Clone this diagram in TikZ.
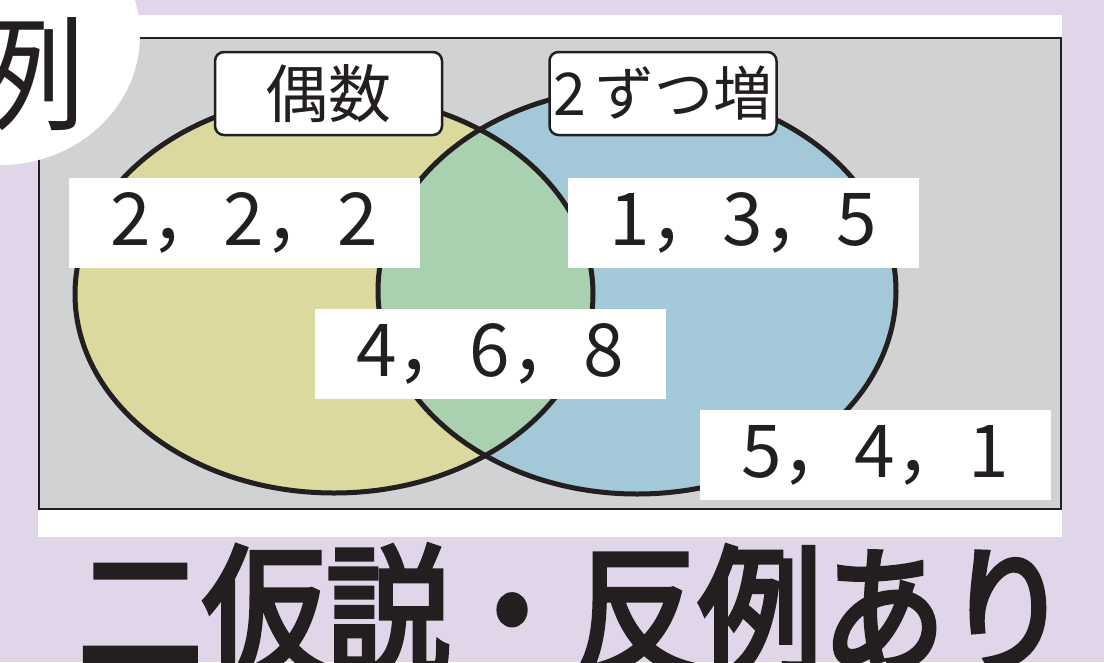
\documentclass[tikz,border=0pt]{standalone}
\usepackage{fontspec}
\newfontfamily\jp{Noto Sans CJK JP}
\newfontfamily\jpb[FakeBold=4]{Noto Sans CJK JP}
\definecolor{lav}{HTML}{E0D5E9}
\definecolor{boxgray}{HTML}{D1D2D4}
\definecolor{yel}{HTML}{DCD99F}
\definecolor{blu}{HTML}{A3C9D8}
\definecolor{grn}{HTML}{A9D0AF}
\definecolor{ink}{HTML}{231F20}
\tikzset{
  numbox/.style={fill=white, minimum width=351pt, minimum height=90pt, inner sep=0pt,
    font=\jp\fontsize{73}{73}\selectfont, text=ink},
  labbox/.style={fill=white, draw=ink, line width=2.5pt, rounded corners=9pt,
    minimum width=227pt, minimum height=83pt, inner sep=0pt,
    font=\jp\fontsize{63}{63}\selectfont, text=ink},
  venn/.style={draw=ink, line width=5pt}
}
\begin{document}
\begin{tikzpicture}[x=1pt,y=-1pt]
\fill[lav] (0,0) rectangle (1104,662);
\useasboundingbox (0,0) rectangle (1104,662);
% white panel and gray frame
\fill[white] (38,15) rectangle (1062,537);
\draw[ink, line width=2.5pt, fill=boxgray] (39,38) rectangle (1061,509);
% white blob top-left
\fill[white] (0,35) ellipse [x radius=140, y radius=130];
\node[anchor=base, inner sep=0pt, text=ink, font=\jp\fontsize{125}{125}\selectfont] (rei) at (23,120) {例};
% Venn
\fill[yel] (334,294) ellipse [x radius=259, y radius=199];
\fill[blu] (637,291) ellipse [x radius=259, y radius=203];
\begin{scope}
  \clip (334,294) ellipse [x radius=259, y radius=199];
  \fill[grn] (637,291) ellipse [x radius=259, y radius=203];
\end{scope}
\draw[venn] (334,294) ellipse [x radius=259, y radius=199];
\draw[venn] (637,291) ellipse [x radius=259, y radius=203];
% labels
\node[labbox] (even) at (328.5,93.5) {偶数};
\node[labbox, font=\jp\fontsize{59}{59}\selectfont] (inc) at (663,93.5) {2\,ずつ増};
% number boxes
\node[numbox] (a) at (244,223) {2，2，2};
\node[numbox] (b) at (743,223) {1，3，5};
\node[numbox] (c) at (490,354) {4，6，8};
\node[numbox] (d) at (875,455) {5，4，1};
% title
\node[anchor=base, inner sep=0pt, text=ink, xscale=0.885, font=\jpb\fontsize{140}{140}\selectfont] (title) at (574,663) {二仮説・反例あり};
\end{tikzpicture}
\end{document}
